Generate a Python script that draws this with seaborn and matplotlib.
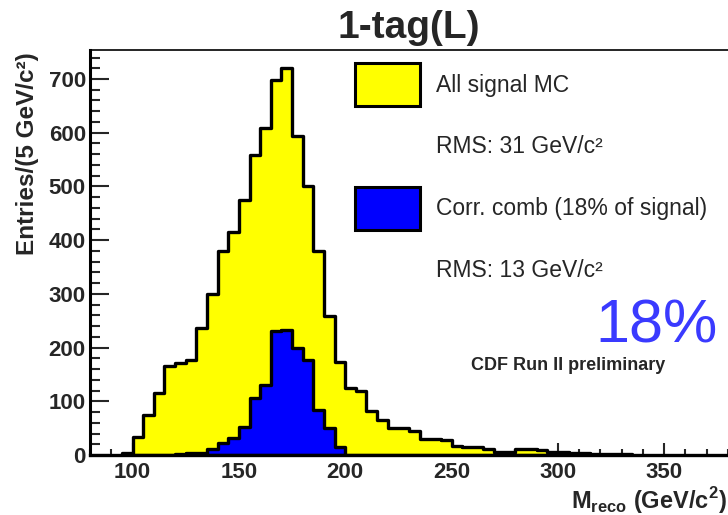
import numpy as np
import pandas as pd
import matplotlib
matplotlib.use('Agg')
import matplotlib.pyplot as plt
import seaborn as sns
from matplotlib.patches import Patch
from matplotlib.ticker import MultipleLocator

# Reconstructed mass histograms, 5 GeV/c^2 bins (lower bin edges + entries)
all_lo = list(range(95, 335, 5))
all_counts = [3, 34, 75, 115, 165, 172, 177, 236, 300, 379,
              416, 474, 559, 609, 699, 720, 593, 500, 379, 258,
              174, 124, 120, 81, 65, 50, 50, 45, 30, 30,
              28, 16, 15, 14, 12, 6, 6, 12, 11, 10,
              6, 5, 4, 3, 2, 1, 1, 1]
corr_lo = list(range(120, 200, 5))
corr_counts = [2, 3, 4, 12, 22, 31, 53, 106, 130, 230,
               233, 199, 177, 84, 50, 15]

legend_labels = ['All signal MC', 'RMS: 31 GeV/c²',
                 'Corr. comb (18% of signal)', 'RMS: 13 GeV/c²']

sns.set_style('white', {'axes.edgecolor': 'black'})
plt.rcParams['font.family'] = ['Liberation Sans', 'DejaVu Sans']
plt.rcParams['mathtext.fontset'] = 'custom'
plt.rcParams['mathtext.rm'] = 'Liberation Sans:bold'

fig = plt.figure(figsize=(7.28, 5.15), dpi=100)
ax = fig.add_axes([90 / 728, 60 / 515, 638 / 728, 405 / 515])

width = 5
for lo, counts, col in [(all_lo, all_counts, '#ffff00'),
                        (corr_lo, corr_counts, '#0000ff')]:
    df = pd.DataFrame({'mass': np.array(lo) + width / 2, 'n': counts})
    edges = list(lo) + [lo[-1] + width]
    sns.histplot(data=df, x='mass', weights='n', bins=edges, element='step',
                 fill=True, color=col, alpha=1, edgecolor='black',
                 linewidth=2.4, ax=ax)

ax.set_xlim(80, 380)
ax.set_ylim(0, 754)

ax.xaxis.set_major_locator(MultipleLocator(50))
ax.xaxis.set_minor_locator(MultipleLocator(10))
ax.yaxis.set_major_locator(MultipleLocator(100))
ax.yaxis.set_minor_locator(MultipleLocator(20))
ax.tick_params(axis='y', which='major', direction='in', length=14, width=1.5,
               pad=3, labelsize=16, left=True)
ax.tick_params(axis='y', which='minor', direction='in', length=7, width=1.5,
               left=True)
ax.tick_params(axis='x', which='major', direction='in', length=9, width=1.5,
               pad=5, labelsize=16, bottom=True)
ax.tick_params(axis='x', which='minor', direction='in', length=4.5, width=1.5,
               bottom=True)
for lab in ax.get_xticklabels() + ax.get_yticklabels():
    lab.set_fontweight('bold')

ax.spines['left'].set_linewidth(2.2)
ax.spines['bottom'].set_linewidth(2.4)
ax.spines['top'].set_linewidth(1.2)
ax.spines['right'].set_visible(False)

ax.set_ylabel('Entries/(5 GeV/c²)', fontsize=17.5, fontweight='bold', loc='top')
ax.yaxis.set_label_coords(-0.08, 0.995)
ax.set_xlabel(r'M$_{\rm reco}$ (GeV/c$^{2}$)', fontsize=17, fontweight='bold',
              loc='right')
ax.xaxis.set_label_coords(0.998, -0.075)

ax.set_title('1-tag(L)', fontsize=28, fontweight='bold', pad=9)

handles = [Patch(facecolor='#ffff00', edgecolor='black', linewidth=2.2),
           Patch(facecolor='none', edgecolor='none'),
           Patch(facecolor='#0000ff', edgecolor='black', linewidth=2.2),
           Patch(facecolor='none', edgecolor='none')]
ax.legend(handles, legend_labels, loc='upper left',
          bbox_to_anchor=(0.415, 0.968), frameon=False, fontsize=16.5,
          handlelength=2.84, handleheight=2.52, handletextpad=0.7,
          labelspacing=0.82, borderpad=0, borderaxespad=0)

ax.text(0.792, 0.279, '18%', transform=ax.transAxes, fontsize=44,
        color='#3a3aff', ha='left', va='baseline')
ax.text(0.749, 0.222, 'CDF Run II preliminary', transform=ax.transAxes,
        fontsize=13, fontweight='bold', ha='center', va='center')

fig.savefig('out.png', dpi=100)
